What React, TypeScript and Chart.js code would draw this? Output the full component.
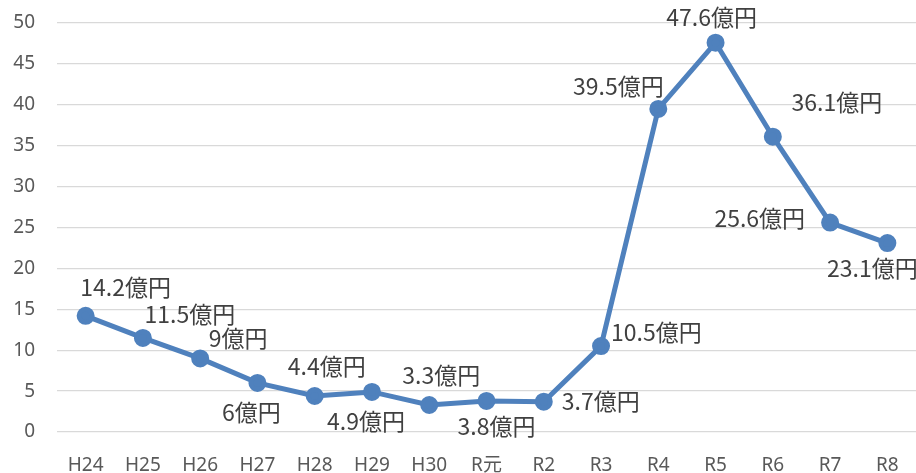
import React, { useEffect, useRef } from "react";
import { Chart, registerables } from "chart.js";

Chart.register(...registerables);

const categories = ["H24", "H25", "H26", "H27", "H28", "H29", "H30", "R元", "R2", "R3", "R4", "R5", "R6", "R7", "R8"];
const values = [14.2, 11.5, 9, 6, 4.4, 4.9, 3.3, 3.8, 3.7, 10.5, 39.5, 47.6, 36.1, 25.6, 23.1];
const labelPlacement = [
  "aboveRight", "aboveRightWide", "aboveRightLow", "below", "aboveRightNear", "below", "aboveRightNear", "belowRight",
  "right", "rightHigh", "aboveLeft", "above", "aboveRightFar", "left", "belowLeft",
];
const yTicks = [0, 5, 10, 15, 20, 25, 30, 35, 40, 45, 50];

const offsets: Record<string, [number, number, CanvasTextAlign]> = {
  above: [-4, -25, "center"],
  below: [-6, 29, "center"],
  belowRight: [10, 25, "center"],
  belowLeft: [-15, 25, "center"],
  aboveRight: [40, -29, "center"],
  aboveRightWide: [47, -24, "center"],
  aboveRightLow: [38, -20, "center"],
  aboveRightNear: [12, -30, "center"],
  aboveRightFar: [64, -34, "center"],
  aboveLeft: [-40, -23, "center"],
  right: [18, 0, "left"],
  rightHigh: [10, -14, "left"],
  left: [-25, -4, "right"],
};

const labelPlugin = {
  id: "valueLabels",
  afterDatasetsDraw(chart: any) {
    const ctx = chart.ctx;
    const meta = chart.getDatasetMeta(0);
    ctx.save();
    ctx.font = '23px "Noto Sans CJK JP"';
    ctx.fillStyle = "#404040";
    ctx.textBaseline = "middle";
    meta.data.forEach((pt: any, i: number) => {
      const [dx, dy, align] = offsets[labelPlacement[i]] || offsets.above;
      ctx.textAlign = align;
      ctx.fillText(`${values[i]}億円`, pt.x + dx, pt.y + dy);
    });
    ctx.restore();
  },
};

export default function App() {
  const ref = useRef<HTMLCanvasElement | null>(null);
  useEffect(() => {
    document.body.style.margin = "0";
    const tickFont = { size: 19, family: '"Noto Sans", "Noto Sans CJK JP"' };
    const chart = new Chart(ref.current as HTMLCanvasElement, {
      type: "line",
      data: {
        labels: categories,
        datasets: [
          {
            data: values,
            borderColor: "#4F81BD",
            backgroundColor: "#4F81BD",
            borderWidth: 5,
            pointRadius: 6.5,
            pointBackgroundColor: "#4F81BD",
            pointBorderColor: "#4F81BD",
            tension: 0,
            clip: false,
          },
        ],
      },
      options: {
        animation: false,
        responsive: false,
        layout: { autoPadding: false, padding: { top: 23, right: 0, left: 0, bottom: 0 } },
        plugins: { legend: { display: false }, tooltip: { enabled: false } },
        scales: {
          x: {
            offset: true,
            grid: { display: false, drawTicks: false },
            border: { display: false },
            ticks: { color: "#595959", font: tickFont, padding: 22, maxRotation: 0, autoSkip: false },
            afterFit: (s: any) => { s.height = 41; s.paddingLeft = 0; s.paddingRight = 0; },
          },
          y: {
            min: 0,
            max: 50,
            afterBuildTicks: (s: any) => { s.ticks = yTicks.map((v) => ({ value: v })); },
            grid: { color: "#d9d9d9", lineWidth: 1.3, drawTicks: false },
            border: { display: false },
            ticks: { color: "#595959", font: tickFont, padding: 22 },
            afterFit: (s: any) => { s.width = 57; s.paddingTop = 0; s.paddingBottom = 0; },
          },
        },
      },
      plugins: [labelPlugin],
    });
    return () => chart.destroy();
  }, []);
  return (
    <div style={{ position: "absolute", left: 0, top: 0, width: 916, height: 473, background: "#fff" }}>
      <canvas ref={ref} width={916} height={473} style={{ width: 916, height: 473 }} />
    </div>
  );
}
